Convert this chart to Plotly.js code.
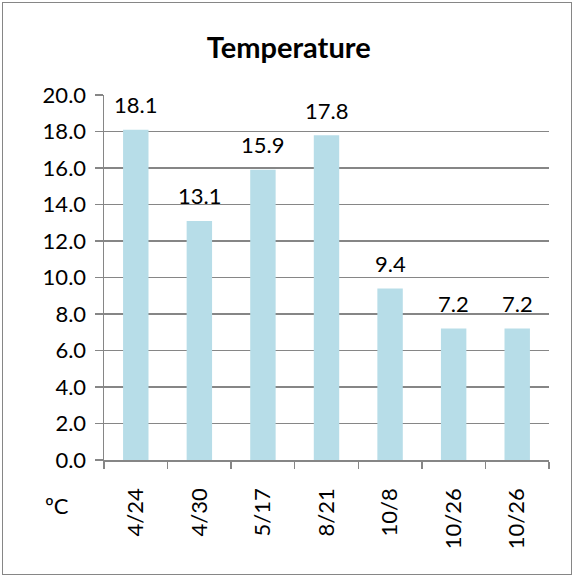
<!DOCTYPE html>
<html>
<head>
<meta charset="utf-8">
<script src="https://cdn.plot.ly/plotly-3.0.1.min.js"></script>
<style>
  html, body { margin: 0; padding: 0; background: #fff; }
  #wrap { position: relative; width: 574px; height: 577px; }
  #chart { position: absolute; left: 0; top: 0; width: 574px; height: 577px; }
  #frame { position: absolute; left: 2px; top: 2px; width: 568px; height: 571px;
           border: 1px solid #868686; pointer-events: none; }
</style>
</head>
<body>
<div id="wrap"><div id="chart"></div><div id="frame"></div></div>
<script>
const categories = ["4/24", "4/30", "5/17", "8/21", "10/8", "10/26", "10/26"];
const temperatures = [18.1, 13.1, 15.9, 17.8, 9.4, 7.2, 7.2];
const yTickValues = [0, 2, 4, 6, 8, 10, 12, 14, 16, 18, 20];
const unitLabel = "ºC";
const chartTitle = "Temperature";

const FONT = "Lato, 'Open Sans', sans-serif";
const idx = categories.map((_, i) => i);

const bar = {
  type: "bar",
  x: idx,
  y: temperatures,
  marker: { color: "#B7DDE8" },
  hoverinfo: "skip"
};

const labelAnnotations = temperatures.map((v, i) => ({
  x: i, y: v, xref: "x", yref: "y",
  text: v.toFixed(1),
  showarrow: false,
  yanchor: "middle",
  yshift: 25,
  font: { family: FONT, size: 22, color: "#000" }
}));

labelAnnotations.push({
  xref: "paper", yref: "paper",
  x: -0.105, y: -0.125,
  xanchor: "center", yanchor: "middle",
  text: unitLabel, showarrow: false,
  font: { family: FONT, size: 22, color: "#000" }
});

const layout = {
  width: 574, height: 577,
  margin: { l: 104, r: 25, t: 95, b: 117 },
  paper_bgcolor: "#fff",
  plot_bgcolor: "#fff",
  showlegend: false,
  bargap: 0.6,
  title: {
    text: "<b>" + chartTitle + "</b>",
    font: { family: FONT, size: 29, color: "#000" },
    x: 0.503, xref: "container", xanchor: "center",
    y: 45, yref: "container", yanchor: "middle"
  },
  xaxis: {
    type: "linear",
    range: [-0.5, categories.length - 0.5],
    tickmode: "array",
    tickvals: idx,
    ticktext: categories,
    tickangle: -90,
    ticks: "",
    showgrid: false,
    zeroline: false,
    showline: true,
    linecolor: "#868686",
    linewidth: 1.5,
    ticklabelstandoff: 18,
    tickfont: { family: FONT, size: 22, color: "#000" },
    minor: { tick0: 0.5, dtick: 1, ticks: "outside", ticklen: 7, tickcolor: "#868686", tickwidth: 1.5, showgrid: false },
    fixedrange: true
  },
  yaxis: {
    range: [0, 20],
    tickmode: "array",
    tickvals: yTickValues,
    ticktext: yTickValues.map(v => v.toFixed(1)),
    ticks: "outside",
    ticklen: 8,
    tickcolor: "#868686",
    tickwidth: 1.5,
    showgrid: true,
    gridcolor: "#868686",
    gridwidth: 1.5,
    zeroline: false,
    showline: true,
    linecolor: "#868686",
    linewidth: 1.5,
    ticklabelstandoff: 4,
    tickfont: { family: FONT, size: 22, color: "#000" },
    fixedrange: true
  },
  annotations: labelAnnotations
};

Plotly.newPlot("chart", [bar], layout, { displayModeBar: false, staticPlot: true });
</script>
</body>
</html>
